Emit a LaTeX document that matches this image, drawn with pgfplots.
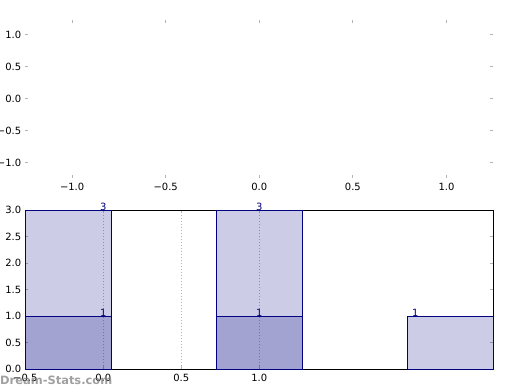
\documentclass[border=0pt]{standalone}
\usepackage{fontspec}
\setmainfont{DejaVu Sans}
\usepackage{pgfplots}
\pgfplotsset{compat=1.18}
\definecolor{navy}{RGB}{0,0,128}
\definecolor{tickgray}{RGB}{180,180,180}
\begin{document}
\fontsize{10}{12}\selectfont
\begin{tikzpicture}[x=1bp,y=1bp]
\useasboundingbox (0,0) rectangle (520,390);
% top, empty axis
\begin{axis}[at={(25.3bp,212.3bp)}, anchor=south west, scale only axis,
  width=468bp, height=157.7bp,
  xmin=-1.25, xmax=1.25, ymin=-1.23, ymax=1.23,
  axis line style={draw=none},
  xtick={-1,-0.5,0,0.5,1}, xticklabels={−1.0,−0.5,0.0,0.5,1.0},
  ytick={-1,-0.5,0,0.5,1}, yticklabels={−1.0,−0.5,0.0,0.5,1.0},
  tick style={tickgray, line width=1bp},
  major tick length=3bp, tick align=inside,
  xticklabel style={inner sep=0pt, yshift=-5bp},
  yticklabel style={inner sep=0pt, xshift=-4bp},
]
\addplot[draw=none] coordinates {(0,0)};
\end{axis}
% bottom histogram axis
\begin{axis}[at={(25.3bp,21bp)}, anchor=south west, scale only axis,
  width=468bp, height=159bp,
  xmin=-0.5, xmax=2.5, ymin=0, ymax=3,
  clip=false,
  axis line style={black, line width=0.8bp},
  xtick={-0.5,0,0.5,1}, xticklabels={−0.5,0.0,0.5,1.0},
  ytick={0,0.5,1,1.5,2,2.5,3}, yticklabels={0.0,0.5,1.0,1.5,2.0,2.5,3.0},
  tick style={tickgray, line width=1bp},
  major tick length=3bp, tick align=inside,
  xmajorgrids, grid style={tickgray, line width=1bp, dash pattern=on 1bp off 2bp},
  xticklabel style={inner sep=0pt, yshift=-5bp},
  yticklabel style={inner sep=0pt, xshift=-4bp},
]
% series A (heights 3, 3, 1)
\addplot[draw=navy, fill=navy, fill opacity=0.2, line width=0.8bp] coordinates {(-0.5,3) (0.051,3)} \closedcycle;
\addplot[draw=navy, fill=navy, fill opacity=0.2, line width=0.8bp] coordinates {(0.724,3) (1.276,3)} \closedcycle;
\addplot[draw=navy, fill=navy, fill opacity=0.2, line width=0.8bp] coordinates {(1.949,1) (2.5,1)} \closedcycle;
% series B (heights 1, 1)
\addplot[draw=navy, fill=navy, fill opacity=0.2, line width=0.8bp] coordinates {(-0.5,1) (0.051,1)} \closedcycle;
\addplot[draw=navy, fill=navy, fill opacity=0.2, line width=0.8bp] coordinates {(0.724,1) (1.276,1)} \closedcycle;
% value labels
\addplot[draw=none, nodes near coords, point meta=explicit symbolic,
  nodes near coords style={anchor=base, inner sep=0pt, text=navy, font=\fontsize{10}{12}\selectfont}]
  table[meta=label] {
x y label
0 3 3
0 1 1
1 3 3
1 1 1
2 1 1
};
\end{axis}
\node[anchor=west, inner sep=0pt, text=gray, opacity=0.75, font=\fontsize{11.5}{13}\selectfont\bfseries] at (0,9.5) {Dream-Stats.com};
\end{tikzpicture}
\end{document}
